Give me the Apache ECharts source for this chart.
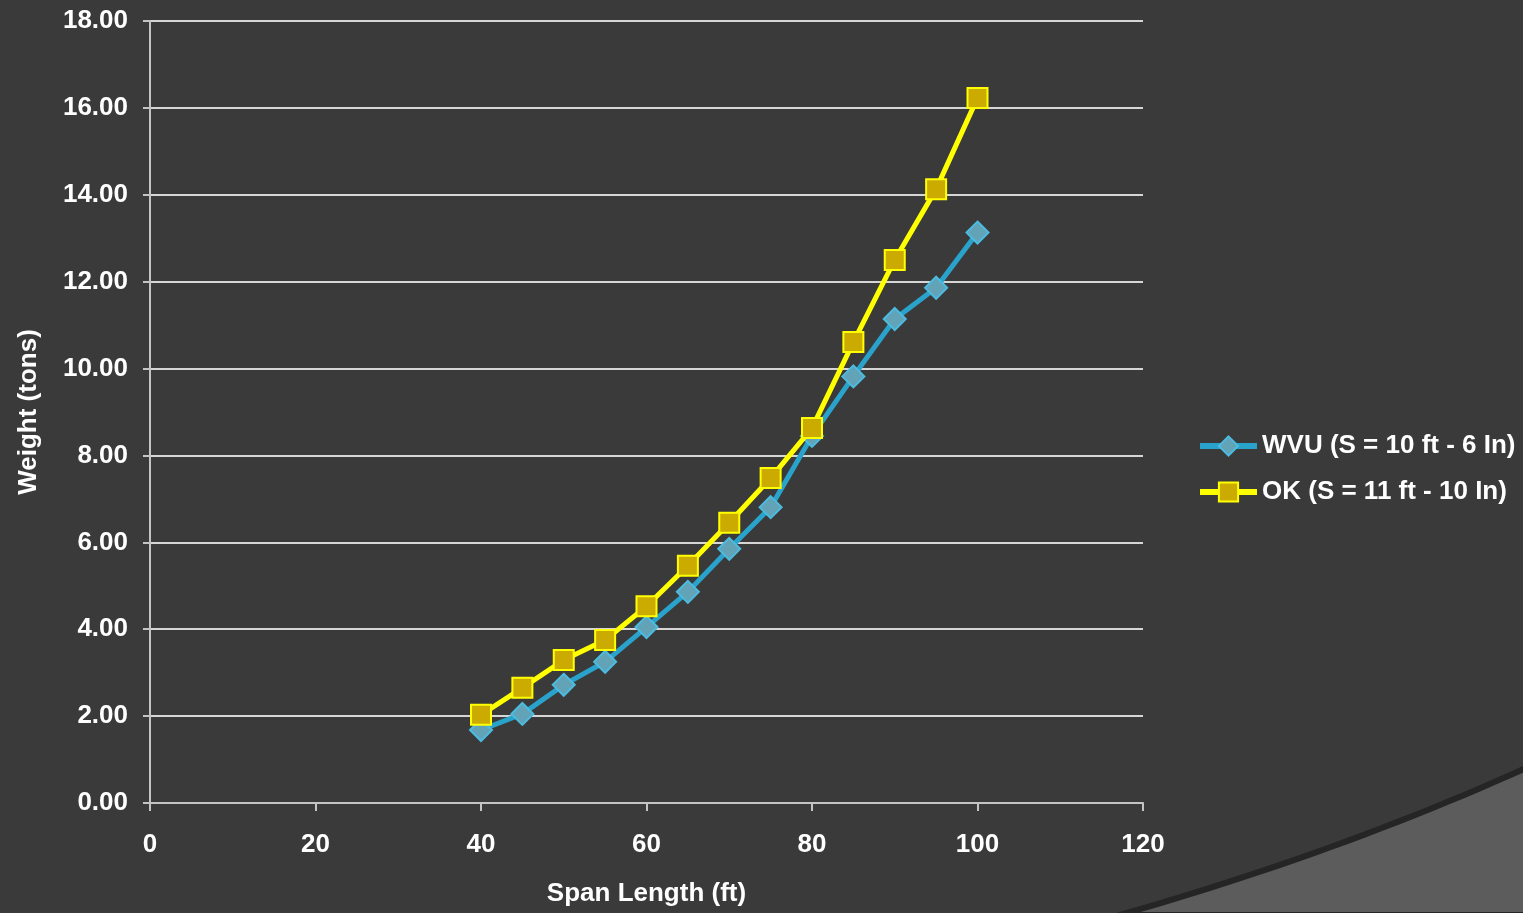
<!DOCTYPE html>
<html>
<head>
<meta charset="utf-8">
<script src="https://cdn.jsdelivr.net/npm/echarts@6/dist/echarts.min.js"></script>
<style>
html,body{margin:0;padding:0;background:#3a3a3a;}
#chart{width:1523px;height:913px;}
</style>
</head>
<body>
<div id="chart"></div>
<script>
const spans = [40, 45, 50, 55, 60, 65, 70, 75, 80, 85, 90, 95, 100];
const wvuWeights = [1.68, 2.05, 2.72, 3.25, 4.05, 4.86, 5.85, 6.81, 8.45, 9.82, 11.14, 11.86, 13.13];
const okWeights = [2.03, 2.65, 3.29, 3.75, 4.53, 5.46, 6.45, 7.48, 8.63, 10.61, 12.50, 14.13, 16.23];
const seriesNames = ['WVU (S = 10 ft - 6 In)', 'OK (S = 11 ft - 10 In)'];
const xTitle = 'Span Length (ft)';
const yTitle = 'Weight (tons)';

const pair = (xs, ys) => xs.map((x, i) => [x, ys[i]]);
const font = 'Liberation Sans, Arial, sans-serif';

// decorative swoosh in the lower-right corner (quadratic curve sampled)
const swoosh = [];
for (let i = 0; i <= 24; i++) {
  const t = i / 24;
  const x = (1 - t) * (1 - t) * 1120 + 2 * t * (1 - t) * 1340 + t * t * 1526;
  const y = (1 - t) * (1 - t) * 915 + 2 * t * (1 - t) * 852 + t * t * 768;
  swoosh.push([x, y]);
}
swoosh.push([1526, 915]);

const chart = echarts.init(document.getElementById('chart'));
chart.setOption({
  backgroundColor: '#3a3a3a',
  animation: false,
  graphic: [{
    type: 'polygon',
    z: -1,
    silent: true,
    shape: { points: swoosh },
    style: { fill: '#5c5c5c', stroke: '#252525', lineWidth: 6 }
  }],
  grid: { left: 150, right: 380, top: 21, bottom: 110 },
  legend: {
    orient: 'vertical',
    left: 1192,
    top: 428,
    itemWidth: 57,
    itemHeight: 24,
    itemGap: 20,
    lineStyle: { width: 6 },
    textStyle: { color: '#ffffff', fontSize: 26, fontWeight: 'bold', fontFamily: font },
    data: seriesNames
  },
  xAxis: {
    type: 'value', min: 0, max: 120, interval: 20,
    name: xTitle, nameLocation: 'middle', nameGap: 78,
    nameTextStyle: { color: '#ffffff', fontSize: 26, fontWeight: 'bold', fontFamily: font },
    axisLine: { show: true, lineStyle: { color: '#c4c4c4', width: 2 } },
    axisTick: { show: true, length: 8, lineStyle: { color: '#c4c4c4', width: 2 } },
    axisLabel: { color: '#ffffff', fontSize: 26, fontWeight: 'bold', fontFamily: font, margin: 29 },
    splitLine: { show: false }
  },
  yAxis: {
    type: 'value', min: 0, max: 18, interval: 2,
    name: yTitle, nameLocation: 'middle', nameGap: 108, nameRotate: 90,
    nameTextStyle: { color: '#ffffff', fontSize: 26, fontWeight: 'bold', fontFamily: font },
    axisLine: { show: true, lineStyle: { color: '#c4c4c4', width: 2 } },
    axisTick: { show: true, length: 7, lineStyle: { color: '#c4c4c4', width: 2 } },
    axisLabel: { color: '#ffffff', fontSize: 26, fontWeight: 'bold', fontFamily: font, margin: 22,
      formatter: v => v.toFixed(2) },
    splitLine: { show: true, lineStyle: { color: '#d6d6d6', width: 2 } }
  },
  series: [
    {
      name: seriesNames[0], type: 'line', data: pair(spans, wvuWeights),
      symbol: 'diamond', symbolSize: 22,
      lineStyle: { color: '#2aa3cc', width: 5 },
      itemStyle: { color: '#62a3b8', borderColor: '#4cbbe0', borderWidth: 2 },
      z: 2
    },
    {
      name: seriesNames[1], type: 'line', data: pair(spans, okWeights),
      symbol: 'rect', symbolSize: 20,
      lineStyle: { color: '#ffff00', width: 5 },
      itemStyle: { color: '#ccab00', borderColor: '#ffff00', borderWidth: 2 },
      z: 3
    }
  ]
});
</script>
</body>
</html>
